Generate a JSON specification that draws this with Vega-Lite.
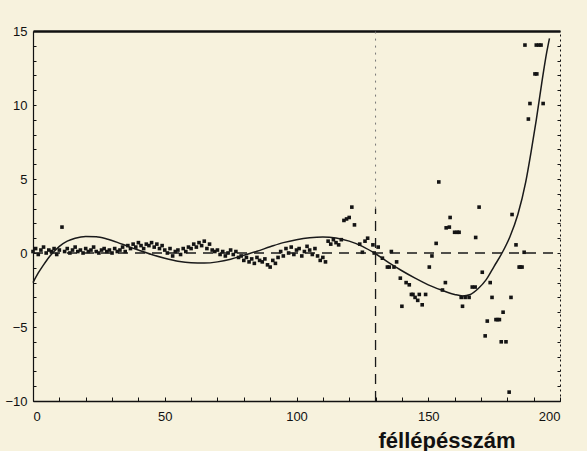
{
  "$schema": "https://vega.github.io/schema/vega-lite/v6.json",
  "width": 527,
  "height": 370,
  "autosize": {"type": "none"},
  "padding": {"left": 33, "top": 31, "right": 27, "bottom": 50},
  "background": "#f7f2dd",
  "config": {
    "view": {"stroke": null},
    "axis": {
      "labelFont": "Liberation Sans",
      "labelFontSize": 13,
      "labelColor": "#111",
      "titleFont": "Liberation Sans",
      "domainColor": "#111",
      "tickColor": "#111",
      "grid": false
    }
  },
  "resolve": {"axis": {"x": "independent", "y": "independent"}},
  "layer": [
    {
      "data": {"values": [
        {"x": 0, "y": 0.1}, {"x": 1, "y": 0.3}, {"x": 2, "y": -0.1}, {"x": 3, "y": 0.2}, {"x": 4, "y": 0.4},
        {"x": 5, "y": 0.0}, {"x": 6, "y": 0.2}, {"x": 7, "y": 0.1}, {"x": 8, "y": 0.3}, {"x": 9, "y": -0.1},
        {"x": 10, "y": 0.2}, {"x": 11, "y": 1.75}, {"x": 12, "y": 0.1}, {"x": 13, "y": 0.3}, {"x": 14, "y": 0.0},
        {"x": 15, "y": 0.2}, {"x": 16, "y": 0.4}, {"x": 17, "y": 0.1}, {"x": 18, "y": 0.2}, {"x": 19, "y": 0.0},
        {"x": 20, "y": 0.3}, {"x": 21, "y": 0.1}, {"x": 22, "y": 0.2}, {"x": 23, "y": 0.4}, {"x": 24, "y": 0.1},
        {"x": 25, "y": 0.0}, {"x": 26, "y": 0.2}, {"x": 27, "y": 0.3}, {"x": 28, "y": 0.1}, {"x": 29, "y": 0.2},
        {"x": 30, "y": 0.0}, {"x": 31, "y": 0.3}, {"x": 32, "y": 0.1}, {"x": 33, "y": 0.2}, {"x": 34, "y": 0.4},
        {"x": 35, "y": 0.1}, {"x": 36, "y": 0.5}, {"x": 37, "y": 0.3}, {"x": 38, "y": 0.6}, {"x": 39, "y": 0.4},
        {"x": 40, "y": 0.7}, {"x": 41, "y": 0.5}, {"x": 42, "y": 0.3}, {"x": 43, "y": 0.6}, {"x": 44, "y": 0.5},
        {"x": 45, "y": 0.7}, {"x": 46, "y": 0.4}, {"x": 47, "y": 0.6}, {"x": 48, "y": 0.3}, {"x": 49, "y": 0.5},
        {"x": 50, "y": 0.2}, {"x": 51, "y": 0.0}, {"x": 52, "y": 0.3}, {"x": 53, "y": -0.2}, {"x": 54, "y": 0.1},
        {"x": 55, "y": 0.2}, {"x": 56, "y": -0.1}, {"x": 57, "y": 0.3}, {"x": 58, "y": 0.1}, {"x": 59, "y": 0.4},
        {"x": 60, "y": 0.3}, {"x": 61, "y": 0.6}, {"x": 62, "y": 0.4}, {"x": 63, "y": 0.7}, {"x": 64, "y": 0.5},
        {"x": 65, "y": 0.8}, {"x": 66, "y": 0.3}, {"x": 67, "y": 0.6}, {"x": 68, "y": 0.2}, {"x": 69, "y": 0.1},
        {"x": 70, "y": 0.2}, {"x": 71, "y": -0.1}, {"x": 72, "y": 0.1}, {"x": 73, "y": -0.2}, {"x": 74, "y": 0.0},
        {"x": 75, "y": 0.2}, {"x": 76, "y": -0.1}, {"x": 77, "y": 0.1}, {"x": 78, "y": -0.3}, {"x": 79, "y": -0.2},
        {"x": 80, "y": -0.5}, {"x": 81, "y": -0.3}, {"x": 82, "y": -0.6}, {"x": 83, "y": -0.4}, {"x": 84, "y": -0.7},
        {"x": 85, "y": -0.3}, {"x": 86, "y": -0.5}, {"x": 87, "y": -0.6}, {"x": 88, "y": -0.4}, {"x": 89, "y": -0.8},
        {"x": 90, "y": -0.95}, {"x": 91, "y": -0.5}, {"x": 92, "y": -0.7}, {"x": 93, "y": -0.3}, {"x": 94, "y": 0.1},
        {"x": 95, "y": -0.2}, {"x": 96, "y": 0.3}, {"x": 97, "y": 0.0}, {"x": 98, "y": 0.4}, {"x": 99, "y": -0.1},
        {"x": 100, "y": 0.2}, {"x": 101, "y": 0.3}, {"x": 102, "y": -0.2}, {"x": 103, "y": 0.1}, {"x": 104, "y": 0.45},
        {"x": 105, "y": 0.2}, {"x": 106, "y": -0.1}, {"x": 107, "y": 0.3}, {"x": 108, "y": -0.2}, {"x": 109, "y": -0.5},
        {"x": 110, "y": -0.3}, {"x": 111, "y": -0.6}, {"x": 112, "y": 0.8}, {"x": 113, "y": 0.6}, {"x": 114, "y": 0.9},
        {"x": 115, "y": 0.7}, {"x": 116, "y": 0.55}, {"x": 117, "y": 0.9}, {"x": 118, "y": 2.2}, {"x": 119, "y": 2.3},
        {"x": 120, "y": 2.4}, {"x": 121, "y": 3.1}, {"x": 122, "y": 1.9}, {"x": 124, "y": 0.6}, {"x": 125, "y": 0.05},
        {"x": 126, "y": 0.8}, {"x": 127, "y": 1.0}, {"x": 129, "y": 0.55}, {"x": 129.5, "y": 0.0}, {"x": 131, "y": 0.4},
        {"x": 132.6, "y": -0.35}, {"x": 134.5, "y": -0.95}, {"x": 135.2, "y": -0.95}, {"x": 136, "y": 0.1}, {"x": 137, "y": -0.95},
        {"x": 138, "y": -0.6}, {"x": 139.4, "y": -1.7}, {"x": 140, "y": -3.6}, {"x": 141.6, "y": -2.0}, {"x": 142.8, "y": -2.15},
        {"x": 143.6, "y": -2.8}, {"x": 144.2, "y": -2.8}, {"x": 145, "y": -3.0}, {"x": 146, "y": -3.2}, {"x": 146.6, "y": -2.8},
        {"x": 147.7, "y": -3.5}, {"x": 149, "y": -2.8}, {"x": 150.4, "y": -0.95}, {"x": 151.4, "y": -0.2}, {"x": 153, "y": 0.65},
        {"x": 154, "y": 4.8}, {"x": 155.4, "y": -2.5}, {"x": 156.5, "y": -2.0}, {"x": 156.8, "y": 1.7}, {"x": 158, "y": 1.75},
        {"x": 158.3, "y": 2.4}, {"x": 160, "y": 1.4}, {"x": 161, "y": 1.4}, {"x": 161.7, "y": 1.4}, {"x": 162.5, "y": -3.0},
        {"x": 163, "y": -3.6}, {"x": 164, "y": -3.0}, {"x": 165.5, "y": -3.0}, {"x": 166.7, "y": -2.3}, {"x": 167.8, "y": -2.3},
        {"x": 168, "y": 1.05}, {"x": 169.3, "y": 3.1}, {"x": 170.5, "y": -1.3}, {"x": 171.6, "y": -5.6}, {"x": 172.4, "y": -4.6},
        {"x": 173.5, "y": -2.0}, {"x": 174.2, "y": -3.0}, {"x": 175.7, "y": -4.5}, {"x": 176.3, "y": -4.5}, {"x": 177, "y": -4.5},
        {"x": 177.7, "y": -6.0}, {"x": 178.4, "y": -4.0}, {"x": 179.5, "y": -6.0}, {"x": 180.7, "y": -9.4}, {"x": 181.4, "y": -3.0},
        {"x": 181.8, "y": 2.6}, {"x": 183.3, "y": 0.55}, {"x": 184.5, "y": -0.95}, {"x": 185, "y": -0.95}, {"x": 185.6, "y": -0.95},
        {"x": 186.4, "y": 0.05}, {"x": 188, "y": 9.05}, {"x": 188.6, "y": 10.1}, {"x": 190.5, "y": 12.1}, {"x": 191.2, "y": 12.1},
        {"x": 186.7, "y": 14.05}, {"x": 191, "y": 14.05}, {"x": 192, "y": 14.05}, {"x": 192.8, "y": 14.05}, {"x": 193.6, "y": 10.1}
      ]},
      "mark": {"type": "point", "shape": "square", "filled": true, "size": 13, "color": "#141414", "opacity": 1},
      "encoding": {
        "x": {"field": "x", "type": "quantitative",
          "scale": {"domain": [0, 200], "nice": false, "zero": false},
          "axis": {"orient": "bottom", "values": [0,10,20,30,40,50,60,70,80,90,100,110,120,130,140,150,160,170,180,190,200],
            "labelExpr": "datum.value % 50 == 0 ? datum.label : ''",
            "tickSize": -4, "labelPadding": 13, "domainWidth": 1.5, "tickWidth": 1,
            "title": "féllépésszám", "titleFontSize": 22, "titleFontWeight": "bold", "titleColor": "#111",
            "titleX": 482, "titleY": 46, "titleAlign": "right", "titleBaseline": "alphabetic", "titleAnchor": null}},
        "y": {"field": "y", "type": "quantitative",
          "scale": {"domain": [-10, 15], "nice": false, "zero": false},
          "axis": {"orient": "left", "values": [-10,-9,-8,-7,-6,-5,-4,-3,-2,-1,0,1,2,3,4,5,6,7,8,9,10,11,12,13,14,15],
            "labelExpr": "datum.value % 5 == 0 ? datum.label : ''",
            "tickSize": -3, "labelPadding": 9, "domainWidth": 1.2, "tickWidth": 1,
            "title": null}}
      }
    },
    {
      "data": {"values": [
        {"x": 0, "y": -2.0}, {"x": 2, "y": -1.35}, {"x": 4, "y": -0.8}, {"x": 6, "y": -0.3}, {"x": 8, "y": 0.1},
        {"x": 10, "y": 0.45}, {"x": 13, "y": 0.8}, {"x": 16, "y": 1.0}, {"x": 20, "y": 1.12}, {"x": 24, "y": 1.1},
        {"x": 28, "y": 0.95}, {"x": 32, "y": 0.72}, {"x": 36, "y": 0.45}, {"x": 40, "y": 0.2}, {"x": 45, "y": -0.1},
        {"x": 50, "y": -0.35}, {"x": 55, "y": -0.55}, {"x": 60, "y": -0.66}, {"x": 65, "y": -0.68}, {"x": 70, "y": -0.6},
        {"x": 75, "y": -0.42}, {"x": 80, "y": -0.15}, {"x": 85, "y": 0.12}, {"x": 90, "y": 0.42}, {"x": 95, "y": 0.7},
        {"x": 100, "y": 0.9}, {"x": 105, "y": 1.03}, {"x": 110, "y": 1.08}, {"x": 115, "y": 1.02}, {"x": 120, "y": 0.8},
        {"x": 125, "y": 0.45}, {"x": 130, "y": -0.05}, {"x": 135, "y": -0.65}, {"x": 140, "y": -1.2}, {"x": 145, "y": -1.7},
        {"x": 150, "y": -2.15}, {"x": 155, "y": -2.5}, {"x": 160, "y": -2.8}, {"x": 163, "y": -2.9}, {"x": 166, "y": -2.8},
        {"x": 169, "y": -2.4}, {"x": 172, "y": -1.8}, {"x": 175, "y": -0.9}, {"x": 178, "y": 0.0}, {"x": 181, "y": 1.1},
        {"x": 184, "y": 2.6}, {"x": 187, "y": 4.8}, {"x": 189, "y": 6.8}, {"x": 191, "y": 9.0}, {"x": 193, "y": 11.4},
        {"x": 195, "y": 13.6}, {"x": 196, "y": 14.5}
      ]},
      "mark": {"type": "line", "interpolate": "monotone", "color": "#1a1a1a", "strokeWidth": 1.5},
      "encoding": {
        "x": {"field": "x", "type": "quantitative",
          "axis": {"orient": "top", "labels": false, "ticks": false, "domainWidth": 2.5, "title": null}},
        "y": {"field": "y", "type": "quantitative",
          "axis": {"orient": "right", "values": [-10,-9,-8,-7,-6,-5,-4,-3,-2,-1,0,1,2,3,4,5,6,7,8,9,10,11,12,13,14,15],
            "labels": false, "tickSize": -3, "domainDash": [2, 3], "domainWidth": 1, "tickWidth": 1, "title": null}}
      }
    },
    {
      "data": {"values": [{"x": 0, "x2": 200, "y": 0}]},
      "mark": {"type": "rule", "strokeDash": [10, 7], "color": "#1a1a1a", "strokeWidth": 1.3},
      "encoding": {
        "x": {"field": "x", "type": "quantitative", "axis": null},
        "x2": {"field": "x2"},
        "y": {"field": "y", "type": "quantitative", "axis": null}
      }
    },
    {
      "data": {"values": [{"x": 130, "y": -10, "y2": 3}]},
      "mark": {"type": "rule", "strokeDash": [10, 7], "color": "#1a1a1a", "strokeWidth": 1.3},
      "encoding": {
        "x": {"field": "x", "type": "quantitative", "axis": null},
        "y": {"field": "y", "type": "quantitative", "axis": null},
        "y2": {"field": "y2"}
      }
    },
    {
      "data": {"values": [{"x": 130, "y": 3, "y2": 15}]},
      "mark": {"type": "rule", "strokeDash": [2, 5], "color": "#777", "strokeWidth": 1},
      "encoding": {
        "x": {"field": "x", "type": "quantitative", "axis": null},
        "y": {"field": "y", "type": "quantitative", "axis": null},
        "y2": {"field": "y2"}
      }
    }
  ]
}
